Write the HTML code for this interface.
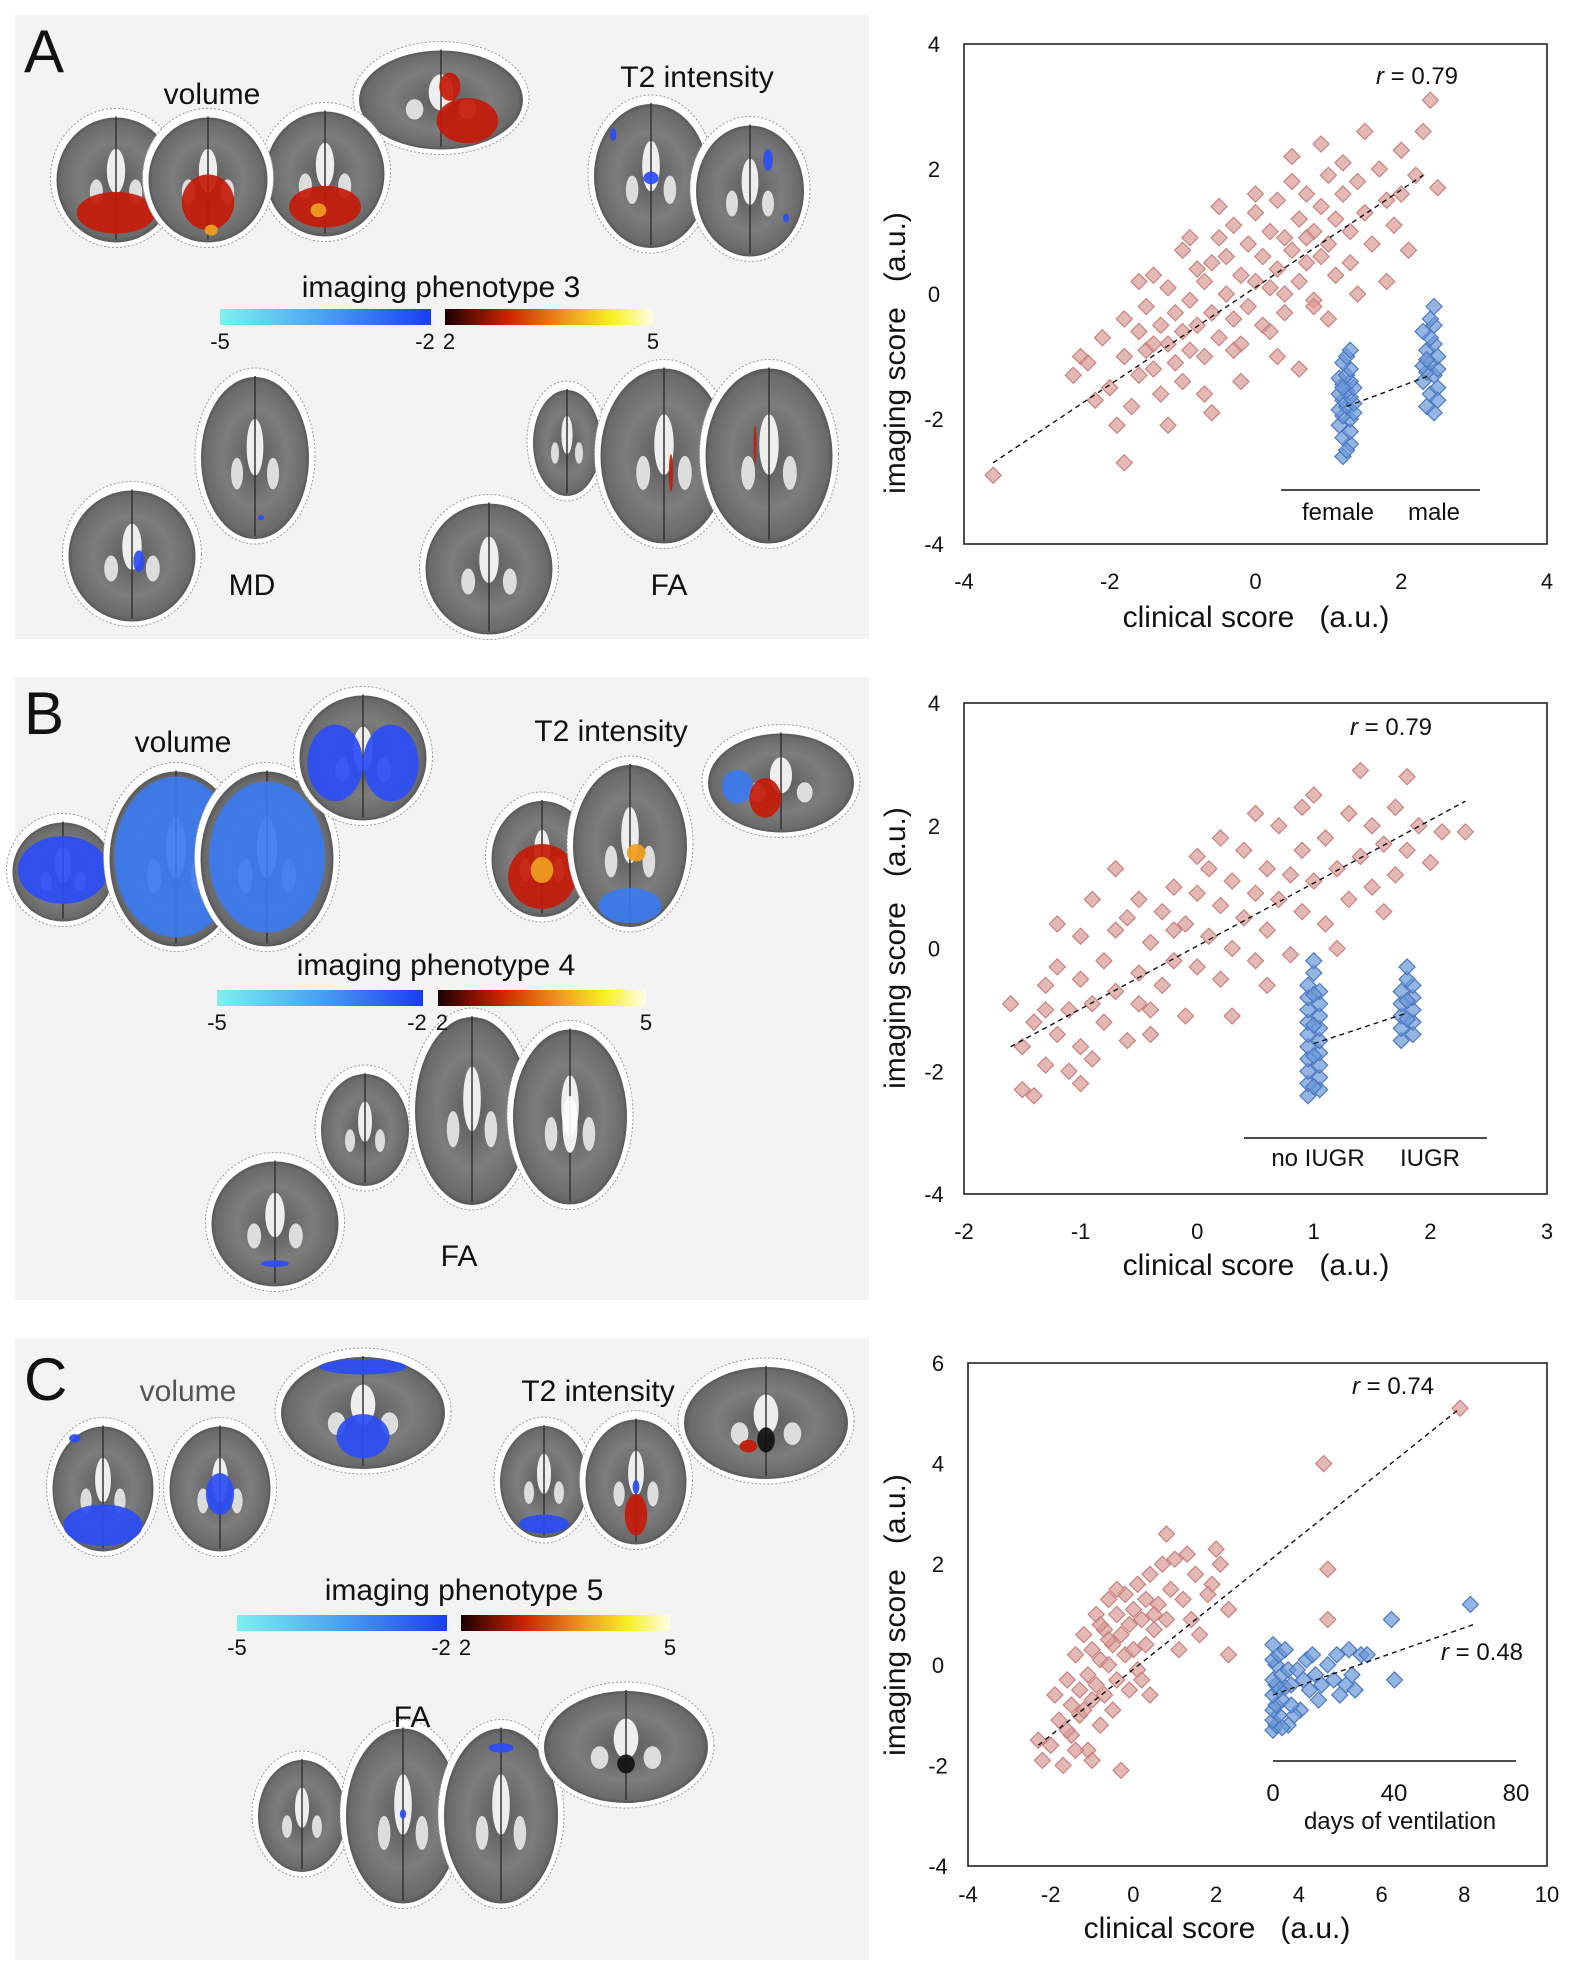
<!DOCTYPE html>
<html><head><meta charset="utf-8">
<style>
html,body{margin:0;padding:0;background:#fff;}
body{width:1575px;height:1977px;position:relative;overflow:hidden;font-family:"Liberation Sans",sans-serif;}
svg{position:absolute;left:0;top:0;}
text{font-family:"Liberation Sans",sans-serif;fill:#111;}
</style></head>
<body>
<svg id="fig" width="1575" height="1977" viewBox="0 0 1575 1977">
<defs>
<radialGradient id="brainG" cx="50%" cy="50%" r="55%">
<stop offset="0%" stop-color="#5a5a5a"/><stop offset="55%" stop-color="#7d7d7d"/><stop offset="85%" stop-color="#6a6a6a"/><stop offset="100%" stop-color="#3a3a3a"/>
</radialGradient>
<linearGradient id="cbBlue" x1="0" x2="1"><stop offset="0" stop-color="#7ff0f0"/><stop offset="0.5" stop-color="#4aa0f0"/><stop offset="1" stop-color="#1a3cf5"/></linearGradient>
<linearGradient id="cbRed" x1="0" x2="1"><stop offset="0" stop-color="#1a0000"/><stop offset="0.3" stop-color="#cc2200"/><stop offset="0.6" stop-color="#f0a020"/><stop offset="0.8" stop-color="#f8f020"/><stop offset="1" stop-color="#fffce8"/></linearGradient>
</defs>
<rect x="15" y="15" width="854" height="624" fill="#f3f3f3"/>
<rect x="15" y="677" width="854" height="623" fill="#f3f3f3"/>
<rect x="15" y="1338" width="854" height="622" fill="#f3f3f3"/>
<g id="brains"></g>
<g id="labels">
<text x="24" y="72" font-size="60">A</text>
<text x="24" y="734" font-size="60">B</text>
<text x="24" y="1400" font-size="60">C</text>
<text x="212" y="104" font-size="30" text-anchor="middle">volume</text>
<text x="697" y="87" font-size="30" text-anchor="middle">T2 intensity</text>
<text x="252" y="595" font-size="30" text-anchor="middle">MD</text>
<text x="669" y="595" font-size="30" text-anchor="middle">FA</text>
<text x="183" y="752" font-size="30" text-anchor="middle">volume</text>
<text x="611" y="741" font-size="30" text-anchor="middle">T2 intensity</text>
<text x="459" y="1266" font-size="30" text-anchor="middle">FA</text>
<text x="188" y="1401" font-size="30" text-anchor="middle" style="fill:#555">volume</text>
<text x="598" y="1401" font-size="30" text-anchor="middle">T2 intensity</text>
<text x="412" y="1727" font-size="30" text-anchor="middle">FA</text>
</g>
<g id="colorbars"></g>
<g id="plots"></g>
</svg>
<script>
// ---------- chart data ----------
const aRed = [[-3.6,-2.9],[-2.5,-1.3],[-2.4,-1.0],[-2.2,-1.7],[-2.1,-0.7],[-2.0,-1.5],[-1.9,-2.1],[-1.8,-0.4],[-1.8,-1.0],[-1.7,-1.8],[-1.6,-0.6],[-1.6,-1.3],[-1.5,-0.9],[-1.5,-0.2],[-1.4,-1.2],[-1.4,0.3],[-1.3,-0.5],[-1.3,-1.6],[-1.2,-0.8],[-1.2,0.1],[-1.1,-0.3],[-1.1,-1.1],[-1.0,0.7],[-1.0,-0.6],[-0.9,-0.1],[-0.9,-0.9],[-0.8,0.4],[-0.8,-0.5],[-0.7,0.2],[-0.7,-1.0],[-0.6,-0.3],[-0.6,0.5],[-0.5,0.9],[-0.5,-0.7],[-0.4,0.0],[-0.4,0.6],[-0.3,-0.4],[-0.3,1.1],[-0.2,0.3],[-0.2,-0.8],[-0.1,0.8],[-0.1,-0.2],[0.0,0.2],[0.0,1.3],[0.1,-0.5],[0.1,0.6],[0.2,1.0],[0.2,0.1],[0.3,0.4],[0.3,1.5],[0.4,-0.3],[0.4,0.9],[0.5,0.7],[0.5,1.8],[0.6,0.2],[0.6,1.2],[0.7,0.5],[0.7,1.6],[0.8,1.0],[0.8,-0.1],[0.9,1.4],[0.9,0.6],[1.0,1.9],[1.0,0.8],[1.1,1.2],[1.1,0.3],[1.2,1.6],[1.3,1.0],[1.4,1.8],[1.5,1.3],[1.6,0.8],[1.7,2.0],[1.8,1.5],[1.9,1.1],[2.0,2.3],[2.1,0.7],[2.2,1.9],[2.3,2.6],[2.5,1.7],[2.4,3.1],[-1.8,-2.7],[-1.2,-2.1],[-0.7,-1.6],[-0.3,-0.9],[0.2,-0.6],[0.6,-1.2],[1.0,-0.4],[1.4,0.0],[1.8,0.2],[-0.9,0.9],[-0.5,1.4],[0.0,1.6],[0.5,2.2],[0.9,2.4],[1.2,2.1],[-1.6,0.2],[-0.2,-1.4],[0.3,-1.0],[0.8,-0.2],[-1.0,-1.4],[-0.6,-1.9],[0.4,0.0],[1.5,2.6],[2.0,1.6],[-2.3,-1.1],[-1.4,-0.8],[0.7,0.9],[1.3,0.5]];
const aFemale = [[1.2,-2.6],[1.3,-2.4],[1.2,-2.3],[1.3,-2.2],[1.15,-2.1],[1.3,-2.0],[1.2,-1.95],[1.35,-1.9],[1.15,-1.85],[1.25,-1.8],[1.35,-1.75],[1.2,-1.7],[1.3,-1.65],[1.15,-1.6],[1.25,-1.55],[1.35,-1.5],[1.2,-1.45],[1.3,-1.4],[1.15,-1.35],[1.25,-1.3],[1.3,-1.2],[1.2,-1.1],[1.25,-1.0],[1.3,-0.9],[1.25,-2.5],[1.2,-1.5]];
const aMale = [[2.45,-1.9],[2.35,-1.8],[2.4,-1.6],[2.5,-1.5],[2.3,-1.4],[2.45,-1.3],[2.35,-1.25],[2.5,-1.2],[2.3,-1.15],[2.4,-1.1],[2.5,-1.0],[2.35,-0.9],[2.45,-0.8],[2.4,-0.7],[2.3,-0.6],[2.45,-0.5],[2.4,-0.4],[2.45,-0.2],[2.5,-1.7],[2.35,-1.05]];
const aTrend = [[-3.6,-2.7],[2.3,1.9]];
const aBlueTrend = [[1.25,-1.8],[2.4,-1.3]];
const aXTicks = [-4,-2,0,2,4];
const aYTicks = [-4,-2,0,2,4];

const bRed = [[-1.6,-0.9],[-1.5,-1.6],[-1.5,-2.3],[-1.4,-2.4],[-1.4,-1.2],[-1.3,-1.9],[-1.3,-0.6],[-1.2,-1.4],[-1.2,-0.3],[-1.1,-2.0],[-1.1,-1.0],[-1.0,-0.5],[-1.0,-1.6],[-1.0,0.2],[-0.9,-0.9],[-0.9,-1.8],[-0.8,-0.2],[-0.8,-1.2],[-0.7,0.3],[-0.7,-0.7],[-0.6,-1.5],[-0.6,0.5],[-0.5,-0.4],[-0.5,0.8],[-0.4,-1.0],[-0.4,0.1],[-0.3,0.6],[-0.3,-0.6],[-0.2,1.0],[-0.2,-0.2],[-0.1,0.4],[-0.1,-1.1],[0.0,0.9],[0.0,-0.3],[0.1,0.2],[0.1,1.3],[0.2,-0.5],[0.2,0.7],[0.3,1.1],[0.3,0.0],[0.4,0.5],[0.4,1.6],[0.5,-0.2],[0.5,0.9],[0.6,1.3],[0.6,0.3],[0.7,2.0],[0.7,0.8],[0.8,1.2],[0.8,-0.1],[0.9,1.6],[0.9,0.6],[1.0,1.1],[1.0,2.5],[1.1,0.4],[1.1,1.8],[1.2,1.3],[1.3,2.2],[1.3,0.8],[1.4,1.5],[1.5,2.0],[1.5,1.0],[1.6,1.7],[1.7,2.3],[1.7,1.2],[1.8,2.8],[1.8,1.6],[1.9,2.0],[2.0,1.4],[2.1,1.9],[2.3,1.9],[1.4,2.9],[-0.7,1.3],[-0.4,-1.4],[0.2,1.8],[0.6,-0.6],[-1.2,0.4],[-0.9,0.8],[0.0,1.5],[0.9,2.3],[1.6,0.6],[1.2,0.0],[-0.5,-0.9],[-1.3,-1.0],[0.5,2.2],[-0.2,0.3],[0.3,-1.1],[-1.0,-2.2]];
const bNoIugr = [[0.95,-2.4],[1.05,-2.3],[0.95,-2.2],[1.05,-2.1],[0.95,-2.0],[1.05,-1.9],[0.95,-1.8],[1.05,-1.7],[0.95,-1.6],[1.05,-1.5],[0.95,-1.4],[1.05,-1.3],[0.95,-1.2],[1.05,-1.1],[0.95,-1.0],[1.05,-0.9],[0.95,-0.8],[1.05,-0.7],[0.95,-0.6],[1.0,-0.4],[1.0,-0.2],[1.0,-1.75],[1.0,-1.25],[1.0,-2.25],[1.0,-0.75]];
const bIugr = [[1.75,-1.5],[1.85,-1.4],[1.75,-1.3],[1.85,-1.2],[1.75,-1.1],[1.85,-1.0],[1.75,-0.9],[1.85,-0.8],[1.75,-0.7],[1.85,-0.6],[1.8,-0.5],[1.8,-0.3],[1.8,-1.15],[1.8,-0.85]];
const bTrend = [[-1.6,-1.6],[2.3,2.4]];
const bBlueTrend = [[1.0,-1.55],[1.8,-1.05]];
const bXTicks = [-2,-1,0,1,2,3];
const bYTicks = [-4,-2,0,2,4];

const cRed = [[-2.3,-1.5],[-2.2,-1.9],[-2.0,-1.6],[-1.9,-0.6],[-1.8,-1.1],[-1.7,-2.0],[-1.6,-0.3],[-1.5,-0.8],[-1.5,-1.4],[-1.4,0.2],[-1.3,-0.5],[-1.3,-1.0],[-1.2,0.6],[-1.1,-0.2],[-1.1,-1.7],[-1.0,0.3],[-1.0,-0.7],[-0.9,1.0],[-0.9,-0.4],[-0.8,0.1],[-0.8,-1.2],[-0.7,0.7],[-0.7,-0.6],[-0.6,1.3],[-0.6,0.0],[-0.5,0.4],[-0.5,-0.9],[-0.4,1.0],[-0.4,-0.3],[-0.3,0.6],[-0.3,-2.1],[-0.2,1.4],[-0.2,0.2],[-0.1,0.8],[-0.1,-0.5],[0.0,1.1],[0.0,0.3],[0.1,1.6],[0.1,-0.1],[0.2,0.9],[0.3,1.3],[0.3,0.4],[0.4,1.8],[0.5,0.7],[0.6,1.2],[0.7,2.0],[0.8,0.9],[0.9,1.5],[1.0,2.1],[1.1,0.3],[1.2,1.3],[1.3,2.2],[1.5,1.8],[1.6,0.6],[1.9,1.6],[2.0,2.3],[2.1,2.0],[2.3,0.2],[2.3,1.1],[-1.2,-0.9],[-0.6,0.5],[0.2,-0.3],[0.5,1.0],[-0.8,0.8],[-1.6,-1.3],[0.8,2.6],[0.4,-0.6],[-0.4,1.5],[4.6,4.0],[7.9,5.1],[4.7,1.9],[4.7,0.9],[-1.4,-1.7],[-1.0,-1.9],[1.4,0.9],[1.8,1.4]];
const cDays = [[0,-1.3],[1,-1.2],[0,-1.1],[2,-1.0],[0,-0.9],[1,-0.8],[3,-0.7],[0,-0.6],[2,-0.5],[4,-0.45],[1,-0.4],[0,-0.3],[3,-0.2],[5,-0.1],[1,0.0],[0,0.1],[2,0.2],[4,0.3],[0,0.4],[6,-0.4],[8,-0.1],[10,-0.3],[9,-0.9],[12,-0.5],[14,-0.2],[16,-0.4],[11,0.1],[13,0.2],[18,0.0],[20,-0.3],[22,-0.6],[24,-0.4],[26,-0.2],[21,0.2],[25,0.3],[29,0.2],[31,0.2],[27,-0.5],[40,-0.3],[39,0.9],[65,1.2],[7,-1.0],[5,-1.2],[3,-1.25],[6,-0.8],[15,-0.7]];
const cRedTrend = [[-2.3,-1.6],[7.9,5.1]];
const cBlueTrend = [[0,-0.6],[66,0.8]];
const cXTicks = [-4,-2,0,2,4,6,8,10];
const cYTicks = [-4,-2,0,2,4,6];
const cDayTicks = [0,40,80];

// ---------- helpers ----------
const NS = 'http://www.w3.org/2000/svg';
function mk(tag, attrs, parent){const e=document.createElementNS(NS,tag);for(const k in attrs)e.setAttribute(k,attrs[k]);if(parent)parent.appendChild(e);return e;}
function lin(d0,d1,p0,p1){return v=>p0+(v-d0)*(p1-p0)/(d1-d0);}
const plots = document.getElementById('plots');

function diamond(g,px,py,fill,stroke){
  const s=8;
  const d=mk('path',{d:`M${px},${py-s}L${px+s},${py}L${px},${py+s}L${px-s},${py}Z`,fill:fill,'fill-opacity':0.72,stroke:stroke,'stroke-width':1.2},g);
  return d;
}

function drawPlot(cfg){
  const g=mk('g',{},plots);
  
  
  const sx=lin(cfg.xd[0],cfg.xd[1],cfg.box[0],cfg.box[2]);
  const sy=lin(cfg.yd[0],cfg.yd[1],cfg.box[3],cfg.box[1]);
  const frame=mk('rect',{x:cfg.box[0],y:cfg.box[1],width:cfg.box[2]-cfg.box[0],height:cfg.box[3]-cfg.box[1],fill:'#fff',stroke:'#222','stroke-width':1.6},g);
  
  
  cfg.xTicks.forEach(v=>{
    const t=mk('text',{x:sx(v),y:cfg.xTickY,'font-size':22,'text-anchor':'middle'},g);
    t.textContent=String(v);
    
    
  });
  cfg.yTicks.forEach(v=>{
    const t=mk('text',{x:cfg.yTickX,y:sy(v)+8,'font-size':22,'text-anchor':'middle'},g);
    t.textContent=String(v);
    
    
  });
  const xt=mk('text',{x:cfg.xTitle[0],y:cfg.xTitle[1],'font-size':30,'text-anchor':'middle'},g);
  xt.textContent='clinical score\u00a0\u00a0 (a.u.)';
  
  
  const yt=mk('text',{x:0,y:0,'font-size':30,'text-anchor':'middle',transform:`translate(${cfg.yTitle[0]},${cfg.yTitle[1]}) rotate(-90)`},g);
  yt.textContent='imaging score\u00a0\u00a0 (a.u.)';
  
  
  cfg.red.forEach(p=>{
    const d=diamond(g,sx(p[0]),sy(p[1]),'#d99c98','#c8827e');
    
    
  });
  const bx = cfg.blueX ? cfg.blueX : sx;
  cfg.blues.forEach(arr=>arr.forEach(p=>{
    const d=diamond(g,bx(p[0]),sy(p[1]),'#6c98d8','#4a78c0');
    
    
  }));
  const tr=mk('line',{x1:sx(cfg.trend[0][0]),y1:sy(cfg.trend[0][1]),x2:sx(cfg.trend[1][0]),y2:sy(cfg.trend[1][1]),stroke:'#111','stroke-width':1.4,'stroke-dasharray':'5,4'},g);
  
  
  const tb=mk('line',{x1:bx(cfg.blueTrend[0][0]),y1:sy(cfg.blueTrend[0][1]),x2:bx(cfg.blueTrend[1][0]),y2:sy(cfg.blueTrend[1][1]),stroke:'#111','stroke-width':1.4,'stroke-dasharray':'5,4'},g);
  
  
  const base=mk('line',{x1:cfg.base[0],y1:cfg.base[2],x2:cfg.base[1],y2:cfg.base[2],stroke:'#111','stroke-width':1.5},g);
  
  
  cfg.groupLabels.forEach(l=>{
    const t=mk('text',{x:l[1],y:l[2],'font-size':l[3]||24,'text-anchor':'middle'},g);
    t.textContent=l[0];
    
    
  });
  cfg.rLabels.forEach(l=>{
    const t=mk('text',{x:l[1],y:l[2],'font-size':24,'text-anchor':'middle'},g);
    const i=mk('tspan',{'font-style':'italic'},t); i.textContent='r';
    const r=mk('tspan',{},t); r.textContent=' = '+l[0];
    
    
  });
}

drawPlot({name:'scatter-plot-a',box:[964,44,1547,544],xd:[-4,4],yd:[-4,4],xTicks:aXTicks,yTicks:aYTicks,xTickY:589,yTickX:934,
  xTitle:[1256,627],yTitle:[905,353],red:aRed,blues:[aFemale,aMale],trend:aTrend,blueTrend:aBlueTrend,
  base:[1281,1480,490],groupLabels:[['female',1338,520],['male',1434,520]],rLabels:[['0.79',1417,84]]});
drawPlot({name:'scatter-plot-b',box:[964,703,1547,1194],xd:[-2,3],yd:[-4,4],xTicks:bXTicks,yTicks:bYTicks,xTickY:1239,yTickX:934,
  xTitle:[1256,1275],yTitle:[905,948],red:bRed,blues:[bNoIugr,bIugr],trend:bTrend,blueTrend:bBlueTrend,
  base:[1244,1487,1138],groupLabels:[['no IUGR',1318,1166],['IUGR',1430,1166]],rLabels:[['0.79',1391,735]]});
drawPlot({name:'scatter-plot-c',box:[968,1363,1547,1866],xd:[-4,10],yd:[-4,6],xTicks:cXTicks,yTicks:cYTicks,xTickY:1902,yTickX:938,
  xTitle:[1217,1938],yTitle:[905,1615],red:cRed,blues:[cDays],blueX:lin(0,80,1273,1516),trend:cRedTrend,blueTrend:cBlueTrend,
  base:[1273,1516,1761],groupLabels:[['0',1273,1801],['40',1394,1801],['80',1516,1801],['days of ventilation',1400,1829]],rLabels:[['0.74',1393,1394],['0.48',1482,1660]]});

// ---------- colorbars ----------
const cbg=document.getElementById('colorbars');
function colorbar(name,title,tx,ty,bx0,bx1,rx0,rx1,y,lab){
  const g=mk('g',{},cbg);
  
  
  const t=mk('text',{x:tx,y:ty,'font-size':30,'text-anchor':'middle'},g); t.textContent=title;
  mk('rect',{x:bx0,y:y,width:bx1-bx0,height:16,fill:'url(#cbBlue)'},g);
  mk('rect',{x:rx0,y:y,width:rx1-rx0,height:16,fill:'url(#cbRed)'},g);
  [['-5',bx0],['-2',bx1-6],['2',rx0+4],['5',rx1]].forEach(l=>{
    const e=mk('text',{x:l[1],y:y+40,'font-size':22,'text-anchor':'middle'},g); e.textContent=l[0];
  });
}
colorbar('colorbar-a','imaging phenotype 3',441,297,220,431,445,653,309);
colorbar('colorbar-b','imaging phenotype 4',436,975,217,423,438,646,990);
colorbar('colorbar-c','imaging phenotype 5',464,1600,237,447,461,670,1615);

// ---------- brain slices (illustrative) ----------
const bg=document.getElementById('brains');
function brain(cx,cy,w,h,blobs){
  const g=mk('g',{},bg);
  
  
  mk('ellipse',{cx:cx,cy:cy,rx:w/2,ry:h/2,fill:'#fff',stroke:'#999','stroke-width':1,'stroke-dasharray':'2,2'},g);
  mk('ellipse',{cx:cx,cy:cy+2,rx:w/2-6,ry:h/2-7,fill:'url(#brainG)'},g);
  mk('ellipse',{cx:cx,cy:cy-h*0.05,rx:w*0.07,ry:h*0.16,fill:'#eee'},g);
  mk('ellipse',{cx:cx-w*0.15,cy:cy+h*0.1,rx:w*0.05,ry:h*0.09,fill:'#ddd'},g);
  mk('ellipse',{cx:cx+w*0.15,cy:cy+h*0.1,rx:w*0.05,ry:h*0.09,fill:'#ddd'},g);
  mk('line',{x1:cx,y1:cy-h/2+8,x2:cx,y2:cy+h/2-8,stroke:'#333','stroke-width':1.5},g);
  (blobs||[]).forEach(b=>mk('ellipse',{cx:cx+b[0]*w/2,cy:cy+b[1]*h/2,rx:b[2]*w/2,ry:b[3]*h/2,fill:b[4],opacity:0.92},g));
}
const R='#c41a08',Y='#f0a020',B='#2a4cf5',LB='#3a7af0';
// panel A
brain(441,98,176,113,[[0.3,0.4,0.35,0.4,R],[0.1,-0.2,0.12,0.25,R]]);
brain(116,178,131,139,[[0,0.5,0.6,0.3,R]]);
brain(325,172,131,139,[[0,0.5,0.55,0.3,R],[-0.1,0.55,0.12,0.1,Y]]);
brain(208,178,131,139,[[0,0.35,0.4,0.4,R],[0.05,0.75,0.1,0.08,Y]]);
brain(651,174,126,158,[[0,0.05,0.12,0.08,B],[-0.6,-0.5,0.05,0.08,B]]);
brain(750,189,120,145,[[0.3,-0.4,0.08,0.15,B],[0.6,0.4,0.05,0.06,B]]);
brain(255,456,120,176,[[0.1,0.7,0.05,0.03,B]]);
brain(132,554,139,145,[[0.1,0.1,0.08,0.15,B]]);
brain(567,441,80,120,[]);
brain(664,454,139,189,[[0.1,0.2,0.03,0.2,R]]);
brain(769,454,139,189,[[-0.2,-0.1,0.02,0.2,R]]);
brain(489,567,139,145,[]);
// panel B
brain(63,870,113,113,[[0,0,0.8,0.6,B]]);
brain(176,857,145,189,[[0,0,0.85,0.85,LB]]);
brain(267,857,145,189,[[0,0,0.8,0.8,LB]]);
brain(363,756,139,139,[[-0.4,0.1,0.4,0.55,B],[0.4,0.1,0.4,0.55,B]]);
brain(542,857,113,130,[[0,0.3,0.6,0.5,R],[0,0.2,0.2,0.2,Y]]);
brain(630,844,126,176,[[0,0.7,0.5,0.2,LB],[0.1,0.1,0.15,0.1,Y]]);
brain(781,781,158,113,[[-0.55,0.1,0.2,0.3,LB],[-0.2,0.3,0.2,0.35,R]]);
brain(365,1128,100,126,[]);
brain(472,1109,126,202,[]);
brain(570,1115,126,189,[[0,0.1,0.12,0.3,'#fff']]);
brain(275,1222,139,139,[[0,0.6,0.2,0.05,B]]);
// panel C
brain(103,1487,113,139,[[0,0.55,0.7,0.3,B],[-0.5,-0.7,0.1,0.06,B]]);
brain(220,1487,113,139,[[0,0.1,0.25,0.3,B]]);
brain(363,1411,176,126,[[0,0.4,0.3,0.35,B],[0,-0.7,0.5,0.12,B]]);
brain(544,1480,100,126,[[0,0.7,0.5,0.15,B]]);
brain(636,1480,113,139,[[0,0.5,0.2,0.3,R],[0,0.1,0.06,0.1,B]]);
brain(766,1421,176,126,[[0,0.3,0.1,0.2,'#111'],[-0.2,0.4,0.1,0.1,R]]);
brain(302,1814,100,126,[]);
brain(403,1814,126,189,[[0,0,0.05,0.05,B]]);
brain(501,1814,126,189,[[0,-0.7,0.2,0.05,B]]);
brain(626,1745,176,126,[[0,0.3,0.1,0.15,'#111']]);
</script>
</body></html>
